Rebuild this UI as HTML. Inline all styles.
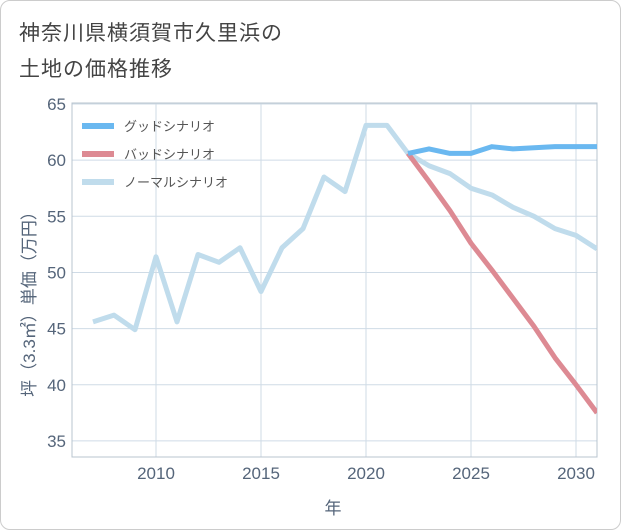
<!DOCTYPE html>
<html><head><meta charset="utf-8"><style>
body{margin:0;background:#fff;}
#wrap{position:relative;width:619px;height:528px;border:1px solid #ccc;border-radius:10px;overflow:hidden;background:#fff;font-family:"Liberation Sans","Noto Sans CJK JP",sans-serif;}
.title{position:absolute;left:18px;font-size:21px;color:#444;letter-spacing:1px}
</style></head><body>
<div id="wrap">
<div class="title" style="top:16px">神奈川県横須賀市久里浜の</div>
<div class="title" style="top:52px">土地の価格推移</div>
<svg id="c" width="621" height="530" style="position:absolute;left:-1px;top:-1px"></svg>
</div>
<script>
const years=[2007,2008,2009,2010,2011,2012,2013,2014,2015,2016,2017,2018,2019,2020,2021,2022,2023,2024,2025,2026,2027,2028,2029,2030,2031];
const normal=[45.6,46.2,44.9,51.4,45.6,51.6,50.9,52.2,48.3,52.2,53.9,58.5,57.2,63.1,63.1,60.6,59.5,58.8,57.5,56.9,55.8,55.0,53.9,53.3,52.1];
const goodYears=[2022,2023,2024,2025,2026,2027,2028,2029,2030,2031];
const good=[60.6,61.0,60.6,60.6,61.2,61.0,61.1,61.2,61.2,61.2];
const bad=[60.6,58.1,55.5,52.6,50.2,47.7,45.2,42.4,40.0,37.5];
const xTicks=[2010,2015,2020,2025,2030];
const yTicks=[35,40,45,50,55,60,65];
const L=72,R=597,T=103,B=457;
const x=v=>156+(v-2010)*21;
const y=v=>104+(65-v)*11.23;
const svg=document.getElementById('c');const NS='http://www.w3.org/2000/svg';
function el(t,a,p){const e=document.createElementNS(NS,t);for(const k in a)e.setAttribute(k,a[k]);(p||svg).appendChild(e);return e;}
const defs=el('defs',{});const cp=el('clipPath',{id:'clip'},defs);el('rect',{x:L,y:T,width:R-L,height:B-T},cp);
const grid=el('g',{});
yTicks.forEach(v=>{el('line',{x1:L,x2:R,y1:y(v),y2:y(v),stroke:'#cfdbe6','stroke-width':1},grid);
 const t=el('text',{x:66,y:y(v)+6,'text-anchor':'end','font-size':17,fill:'#55657a'});t.textContent=v;
 });
xTicks.forEach(v=>{el('line',{x1:x(v),x2:x(v),y1:T,y2:B,stroke:'#cfdbe6','stroke-width':1},grid);
 const t=el('text',{x:x(v),y:479,'text-anchor':'middle','font-size':17,fill:'#55657a'});t.textContent=v;
 });
el('rect',{x:L,y:T,width:R-L,height:B-T,fill:'none',stroke:'#b8c4cf'});
const xt=el('text',{x:333,y:514,'text-anchor':'middle','font-size':17,fill:'#55657a'});xt.textContent='年';

const yt=el('text',{x:0,y:0,'text-anchor':'middle','font-size':17,fill:'#55657a',transform:'translate(35,300) rotate(-90)'});yt.textContent='坪（3.3㎡）単価（万円）';

function line(xs,vs,color,name){const p=el('polyline',{points:xs.map((d,i)=>x(d)+','+y(vs[i])).join(' '),fill:'none',stroke:color,'stroke-width':5,'stroke-linejoin':'round','clip-path':'url(#clip)'});
 }
line(years,normal,'#c0dcec','normal-scenario-line');
line(goodYears,bad,'#dd8a93','bad-scenario-line');
line(goodYears,good,'#6ab8f0','good-scenario-line');
const leg=[['グッドシナリオ','#6ab8f0'],['バッドシナリオ','#dd8a93'],['ノーマルシナリオ','#c0dcec']];
leg.forEach((d,i)=>{const g=el('g',{});
 el('line',{x1:82,x2:114,y1:126+i*28,y2:126+i*28,stroke:d[1],'stroke-width':6},g);
 const t=el('text',{x:124,y:131+i*28,'font-size':13,fill:'#555'},g);t.textContent=d[0];});
</script>
</body></html>
